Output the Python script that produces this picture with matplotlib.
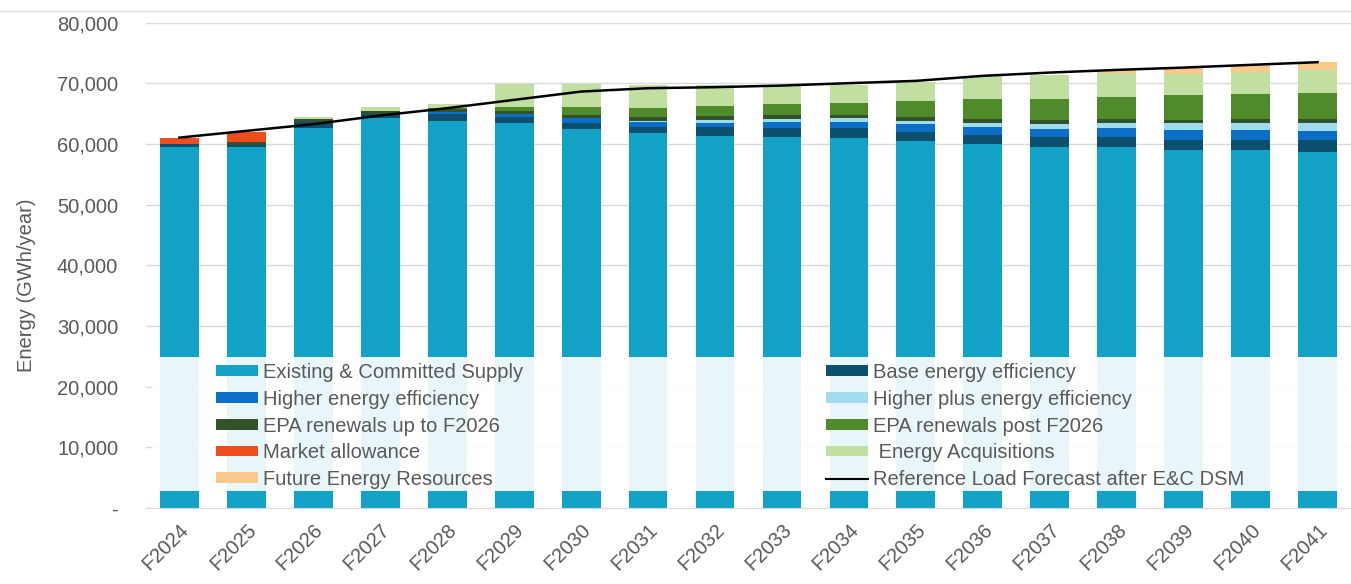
import numpy as np
import matplotlib
matplotlib.use("Agg")
import matplotlib.pyplot as plt
import matplotlib.transforms as mtransforms
from matplotlib.patches import Rectangle, Patch
from matplotlib.lines import Line2D
from matplotlib.ticker import FuncFormatter

plt.rcParams['font.family'] = ['Liberation Sans', 'DejaVu Sans']

# データ (GWh/year)
years = ["F2024", "F2025", "F2026", "F2027", "F2028", "F2029", "F2030", "F2031", "F2032",
         "F2033", "F2034", "F2035", "F2036", "F2037", "F2038", "F2039", "F2040", "F2041"]
existing = [59480, 59480, 62710, 64260, 63820, 63430, 62500, 61790, 61390,
            61230, 61070, 60520, 59970, 59580, 59470, 59030, 59030, 58750]
base_ee = [500, 380, 890, 710, 1100, 1100, 930, 1090, 1380,
           1480, 1530, 1430, 1540, 1650, 1650, 1650, 1650, 1930]
higher_ee = [0, 0, 0, 0, 330, 390, 830, 770, 770,
             990, 1100, 1370, 1370, 1210, 1480, 1650, 1650, 1490]
higher_plus_ee = [0, 0, 0, 0, 0, 0, 0, 220, 440,
                  450, 560, 550, 660, 880, 940, 1100, 1210, 1370]
epa_up = [0, 540, 550, 550, 560, 500, 550, 660, 660,
          660, 550, 550, 550, 660, 550, 550, 550, 550]
epa_post = [0, 0, 0, 0, 200, 760, 1260, 1380, 1650,
            1810, 1920, 2690, 3300, 3520, 3740, 4120, 4130, 4290]
market = [1080, 1650, 0, 0, 0, 0, 0, 0, 0,
          0, 0, 0, 0, 0, 0, 0, 0, 0]
acquisitions = [0, 0, 380, 660, 560, 3690, 3800, 3840, 3460,
                3130, 3020, 3190, 3850, 3910, 3950, 3470, 3720, 3840]
future = [0, 0, 0, 0, 0, 0, 0, 0, 0,
          0, 0, 0, 0, 0, 490, 930, 1110, 1380]
load_forecast = [61060, 62170, 63270, 64700, 65910, 67280, 68650, 69200, 69370,
                 69640, 70030, 70410, 71240, 71780, 72220, 72600, 73050, 73490]

series = [
    ("Existing & Committed Supply", existing, "#12a2c6"),
    ("Base energy efficiency", base_ee, "#0d4f6e"),
    ("Higher energy efficiency", higher_ee, "#0b6fc8"),
    ("Higher plus energy efficiency", higher_plus_ee, "#9fdcef"),
    ("EPA renewals up to F2026", epa_up, "#34522a"),
    ("EPA renewals post F2026", epa_post, "#4f8a2b"),
    ("Market allowance", market, "#f04d1e"),
    (" Energy Acquisitions", acquisitions, "#c2dfa2"),
    ("Future Energy Resources", future, "#f9c98c"),
]

grey = "#595959"
fs = 14.5
fig = plt.figure(figsize=(13.51, 5.84), dpi=100)
ax = fig.add_axes([146 / 1351, 1 - 508 / 584, 1205 / 1351, (508 - 22.7) / 584])

x = np.arange(len(years))
bottom = np.zeros(len(years))
handles = {}
for label, vals, color in series:
    vals = np.array(vals, dtype=float)
    ax.bar(x, vals, 0.58, bottom=bottom, color=color, zorder=2, linewidth=0)
    bottom += vals
    handles[label] = Patch(facecolor=color, edgecolor="none", label=label)

ax.plot(x, load_forecast, color="black", lw=1.8, zorder=4)
handles["Reference Load Forecast after E&C DSM"] = Line2D([0], [0], color="black", lw=1.5,
                                                          label="Reference Load Forecast after E&C DSM")

ax.set_xlim(-0.5, len(years) - 0.5)
ax.set_ylim(0, 80000)
ax.set_yticks(np.arange(0, 80001, 10000))
ax.yaxis.set_major_formatter(FuncFormatter(lambda v, p: "-" if v == 0 else f"{int(v):,}"))
ax.set_xticks(x)
ax.set_xticklabels(years, rotation=45, ha="right", rotation_mode="anchor")
shift = mtransforms.ScaledTranslation(6 / 100, 0, fig.dpi_scale_trans)
for lbl in ax.get_xticklabels():
    lbl.set_transform(lbl.get_transform() + shift)
ax.tick_params(axis="both", length=0, labelsize=fs, labelcolor=grey)
ax.tick_params(axis="y", pad=20)
ax.tick_params(axis="x", pad=9)
ax.grid(axis="y", color="#d9d9d9", lw=1, zorder=0)
ax.set_axisbelow(True)
for s in ["top", "right", "left"]:
    ax.spines[s].set_visible(False)
ax.spines["bottom"].set_color("#d9d9d9")
ax.set_ylabel("Energy (GWh/year)", fontsize=fs, color=grey)
ax.yaxis.set_label_coords((36 - 146) / 1205, 0.46)

# 凡例の背景 (半透明の白)
ax.add_patch(Rectangle((0.005, 0.035), 0.995, 0.276, transform=ax.transAxes,
                       facecolor="white", alpha=0.91, edgecolor="none", zorder=3))

order = ["Existing & Committed Supply", "Higher energy efficiency", "EPA renewals up to F2026",
         "Market allowance", "Future Energy Resources",
         "Base energy efficiency", "Higher plus energy efficiency", "EPA renewals post F2026",
         " Energy Acquisitions", "Reference Load Forecast after E&C DSM"]
leg = ax.legend([handles[k] for k in order], order, ncol=2, frameon=False,
                loc="upper left", bbox_to_anchor=((216 - 146) / 1205, (508 - 363) / 485.3),
                borderaxespad=0, borderpad=0, fontsize=fs, labelcolor=grey,
                handlelength=2.1, handleheight=0.44, handletextpad=0.25,
                labelspacing=0.385, columnspacing=15.0)
leg.set_zorder(5)

fig.add_artist(Line2D([0, 1], [1 - 11 / 584, 1 - 11 / 584], color="#d9d9d9", lw=1,
                      transform=fig.transFigure))

fig.savefig("out.png", dpi=100)
